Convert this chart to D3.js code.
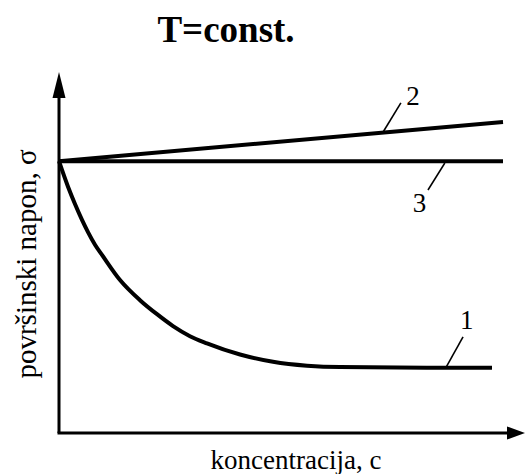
<!DOCTYPE html>
<html><head><meta charset="utf-8">
<script src="https://cdn.jsdelivr.net/npm/d3@7"></script>
<style>html,body{margin:0;padding:0;background:#fff;}svg{display:block;}
text{font-family:"Liberation Serif","DejaVu Serif","Times New Roman",Times,serif;}</style>
</head><body>
<svg id="chart" width="526" height="474"></svg>
<script>
// ---- data ----
const title = "T=const.";
const xLabel = "koncentracija, c";
const yLabel = "površinski napon, σ";
// curve 1: surface-active substance (sigma drops, then levels off)
const c1 = [0, 0.0203, 0.0360, 0.0518, 0.0653, 0.0811, 0.0968, 0.1374, 0.1824, 0.2207, 0.2568, 0.2950, 0.3333, 0.4077, 0.4820, 0.5586, 0.6329, 0.9752];
const s1 = [75.5, 68.4, 63.6, 59.2, 55.8, 52.3, 49.5, 42.5, 36.9, 33.0, 29.7, 26.9, 24.9, 21.8, 19.8, 18.7, 18.3, 18.1];
// curve 2: surface-inactive (slight increase)
const c2 = [0, 1];
const s2 = [75.5, 86.4];
// curve 3: indifferent (constant)
const c3 = [0, 1];
const s3 = [75.5, 75.5];
// curve labels with leader lines (data coordinates)
const labelNames = ["1", "2", "3"];
const leadFromC = [0.872, 0.730, 0.869];
const leadFromS = [18.3, 83.6, 75.0];
const leadToC = [0.910, 0.770, 0.831];
const leadToS = [26.7, 91.7, 67.5];
const labelC = [0.903, 0.782, 0.797];
const labelS = [29.0, 91.0, 61.4];

// ---- drawing ----
const svg = d3.select("#chart");
const x = d3.scaleLinear().domain([0, 1]).range([59, 503]);
const y = d3.scaleLinear().domain([0, 100]).range([433, 73]);

// axes (arrows)
const xAxisEnd = x.invert(525);
const yAxisEnd = y.invert(72);
svg.append("line").attr("x1", x(0)).attr("y1", y(0)).attr("x2", x(0)).attr("y2", y(yAxisEnd) + 20)
  .attr("stroke", "#000").attr("stroke-width", 3);
svg.append("line").attr("x1", x(0) - 1.5).attr("y1", y(0)).attr("x2", x(xAxisEnd) - 16).attr("y2", y(0))
  .attr("stroke", "#000").attr("stroke-width", 3);
svg.append("path").attr("d", `M${x(0)},${y(yAxisEnd)} L${x(0) - 6.5},${y(yAxisEnd) + 26} L${x(0) + 6.5},${y(yAxisEnd) + 26} Z`).attr("fill", "#000");
svg.append("path").attr("d", `M${x(xAxisEnd)},${y(0)} L${x(xAxisEnd) - 18},${y(0) - 6.5} L${x(xAxisEnd) - 18},${y(0) + 6.5} Z`).attr("fill", "#000");

// curves
const line = d3.line().x(d => x(d[0])).y(d => y(d[1]));
const series = [
  { c: c1, s: s1, curve: d3.curveMonotoneX },
  { c: c2, s: s2, curve: d3.curveLinear },
  { c: c3, s: s3, curve: d3.curveLinear }
];
series.forEach(sr => {
  const pts = sr.c.map((v, i) => [v, sr.s[i]]);
  svg.append("path").attr("d", line.curve(sr.curve)(pts))
    .attr("fill", "none").attr("stroke", "#000").attr("stroke-width", 4).attr("stroke-linejoin", "round");
});

// leaders and labels
labelNames.forEach((n, i) => {
  svg.append("line").attr("x1", x(leadFromC[i])).attr("y1", y(leadFromS[i]))
    .attr("x2", x(leadToC[i])).attr("y2", y(leadToS[i]))
    .attr("stroke", "#000").attr("stroke-width", 1.6);
  svg.append("text").attr("x", x(labelC[i])).attr("y", y(labelS[i]))
    .attr("font-size", 27).text(n);
});

// titles
svg.append("text").attr("x", 226).attr("y", 42).attr("text-anchor", "middle")
  .attr("font-weight", "bold").attr("font-size", 37).text(title);
svg.append("text").attr("x", 296).attr("y", 469).attr("text-anchor", "middle")
  .attr("font-size", 27).text(xLabel);
svg.append("text").attr("transform", "translate(36,264) rotate(-90)").attr("text-anchor", "middle")
  .attr("font-size", 29).text(yLabel);
</script>
</body></html>
